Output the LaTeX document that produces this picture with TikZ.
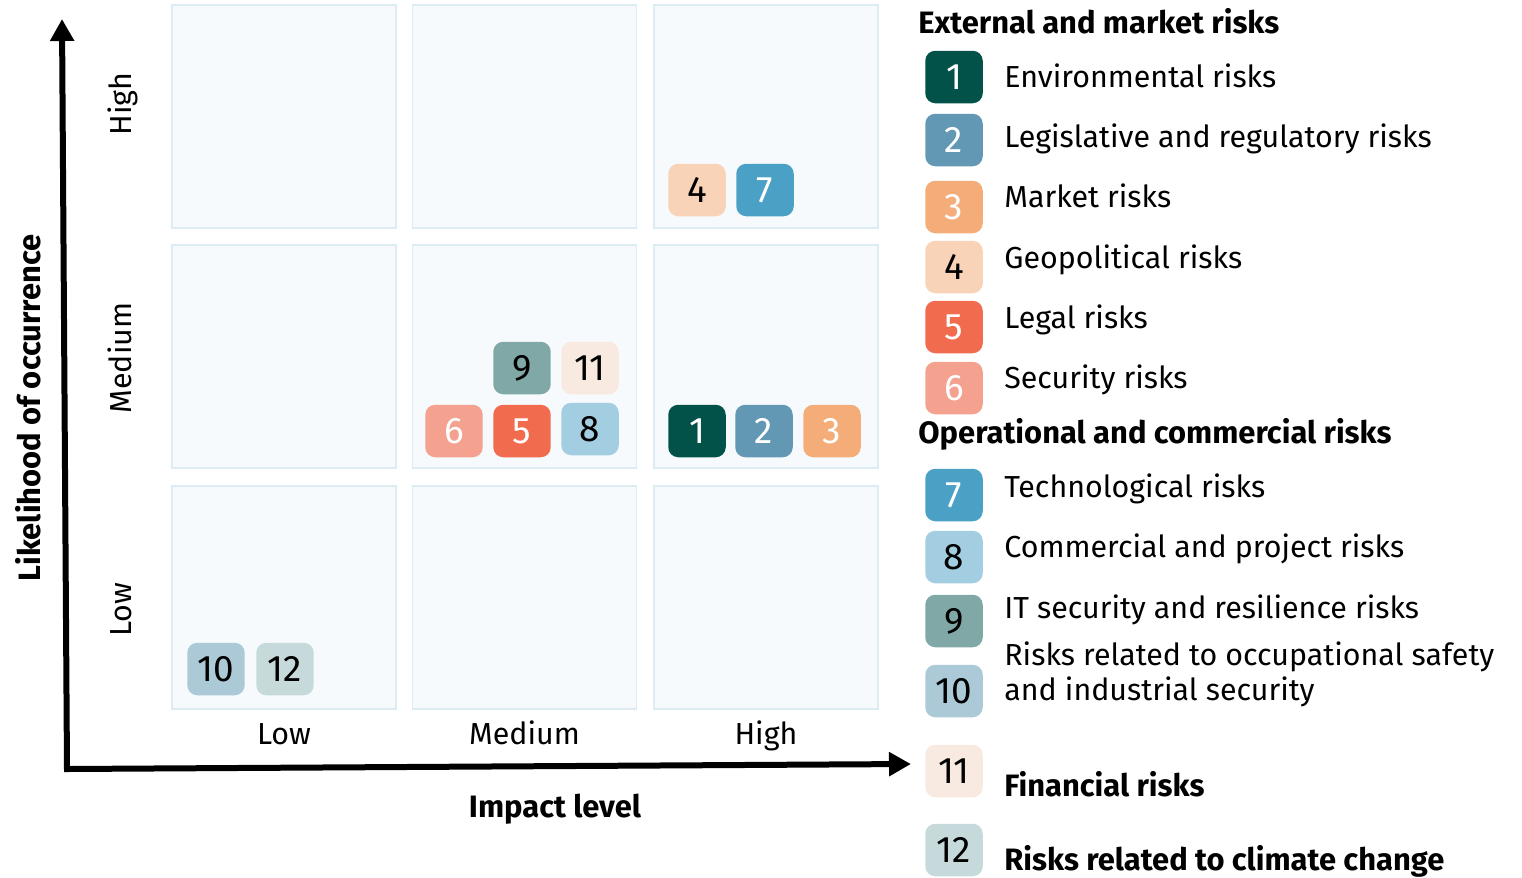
\documentclass[tikz,border=0pt]{standalone}
\usepackage{fontspec}
\setmainfont{Fira Sans}
\usetikzlibrary{arrows.meta}
\definecolor{cellfill}{HTML}{F6FAFC}
\definecolor{cellline}{HTML}{DDEBF3}
\definecolor{risk1}{HTML}{03524A}
\definecolor{risk2}{HTML}{6298B3}
\definecolor{risk3}{HTML}{F4AC78}
\definecolor{risk4}{HTML}{F8D3B8}
\definecolor{risk5}{HTML}{F16C4F}
\definecolor{risk6}{HTML}{F4A18F}
\definecolor{risk7}{HTML}{4BA0C6}
\definecolor{risk8}{HTML}{A3CDE1}
\definecolor{risk9}{HTML}{7FA8A6}
\definecolor{risk10}{HTML}{ABC9D6}
\definecolor{risk11}{HTML}{F8EAE1}
\definecolor{risk12}{HTML}{C6DADB}
\begin{document}
\begin{tikzpicture}[x=0.02cm, y=-0.02cm,
cell_style/.style={draw=cellline, line width=1.1pt, fill=cellfill, minimum width=4.48cm, minimum height=4.46cm, inner sep=0pt},
badge_style/.style={rounded corners=0.2cm, minimum width=1.15cm, minimum height=1.05cm, inner sep=0pt, font=\fontsize{21}{21}\selectfont},
dark_badge/.style={badge_style, text=white},
light_badge/.style={badge_style, text=black},
legend_style/.style={anchor=base west, inner sep=0pt, font=\fontsize{17.3}{19}\selectfont},
head_style/.style={anchor=base west, inner sep=0pt, font=\fontsize{17.6}{19}\selectfont\bfseries},
tick_style/.style={anchor=base, inner sep=0pt, font=\fontsize{17.3}{19}\selectfont},
axis_style/.style={line width=0.12cm, line join=miter, {Triangle[width=0.46cm,length=0.44cm]}-{Triangle[width=0.46cm,length=0.44cm]}}]
\useasboundingbox (0,0) rectangle (1522,877);
% grid
\foreach \col/\cx in {1/284,2/524.5,3/766}
  \foreach \row/\cy in {1/116.5,2/356.5,3/597.5}
    \node[cell_style] (cell\row\col) at (\cx,\cy) {};
% axes
\coordinate (origin) at (67,769);
\coordinate (ytip) at (62,19);
\coordinate (xtip) at (911,764);
\draw[axis_style] (ytip) -- (origin) -- (xtip);
\node[tick_style, rotate=90, font=\fontsize{17.6}{19}\selectfont\bfseries] (ylabel) at (40,408) {Likelihood of occurrence};
\node[tick_style, font=\fontsize{17.6}{19}\selectfont\bfseries] (xlabel) at (555,817) {Impact level};
\node[tick_style, rotate=90] (yhigh) at (131,104) {High};
\node[tick_style, rotate=90] (ymed) at (131,358) {Medium};
\node[tick_style, rotate=90] (ylow) at (131,610) {Low};
\node[tick_style] (xlow) at (284,744) {Low};
\node[tick_style] (xmed) at (524.5,744) {Medium};
\node[tick_style] (xhigh) at (766,744) {High};
% risks in the matrix
\node[light_badge, fill=risk4] (g4) at (697,190) {4};
\node[dark_badge, fill=risk7] (g7) at (765,190) {7};
\node[light_badge, fill=risk9] (g9) at (522,368) {9};
\node[light_badge, fill=risk11] (g11) at (590,368) {11};
\node[dark_badge, fill=risk6] (g6) at (454,431) {6};
\node[dark_badge, fill=risk5] (g5) at (522,431) {5};
\node[light_badge, fill=risk8] (g8) at (590,429) {8};
\node[dark_badge, fill=risk1] (g1) at (697,431) {1};
\node[dark_badge, fill=risk2] (g2) at (764,431) {2};
\node[dark_badge, fill=risk3] (g3) at (832,431) {3};
\node[light_badge, fill=risk10] (g10) at (216,669) {10};
\node[light_badge, fill=risk12] (g12) at (285,669) {12};
% legend
\node[head_style] (head1) at (918,33) {External and market risks};
\node[dark_badge, fill=risk1] (l1) at (954,77) {1};
\node[legend_style] (t1) at (1004,87) {Environmental risks};
\node[dark_badge, fill=risk2] (l2) at (954,140) {2};
\node[legend_style] (t2) at (1004,147) {Legislative and regulatory risks};
\node[dark_badge, fill=risk3] (l3) at (954,207) {3};
\node[legend_style] (t3) at (1004,207) {Market risks};
\node[light_badge, fill=risk4] (l4) at (954,267) {4};
\node[legend_style] (t4) at (1004,268) {Geopolitical risks};
\node[dark_badge, fill=risk5] (l5) at (954,327) {5};
\node[legend_style] (t5) at (1004,328) {Legal risks};
\node[dark_badge, fill=risk6] (l6) at (954,388) {6};
\node[legend_style] (t6) at (1004,388) {Security risks};
\node[head_style] (head2) at (918,443) {Operational and commercial risks};
\node[dark_badge, fill=risk7] (l7) at (954,495) {7};
\node[legend_style] (t7) at (1004,497) {Technological risks};
\node[light_badge, fill=risk8] (l8) at (954,557) {8};
\node[legend_style] (t8) at (1004,557) {Commercial and project risks};
\node[light_badge, fill=risk9] (l9) at (954,621) {9};
\node[legend_style] (t9) at (1004,618) {IT security and resilience risks};
\node[light_badge, fill=risk10] (l10) at (954,691) {10};
\node[legend_style] (t10a) at (1004,665) {Risks related to occupational safety};
\node[legend_style] (t10b) at (1004,700) {and industrial security};
\node[light_badge, fill=risk11] (l11) at (954,771) {11};
\node[head_style] (t11) at (1004,796) {Financial risks};
\node[light_badge, fill=risk12] (l12) at (954,850) {12};
\node[head_style] (t12) at (1004,870) {Risks related to climate change};
\end{tikzpicture}
\end{document}
